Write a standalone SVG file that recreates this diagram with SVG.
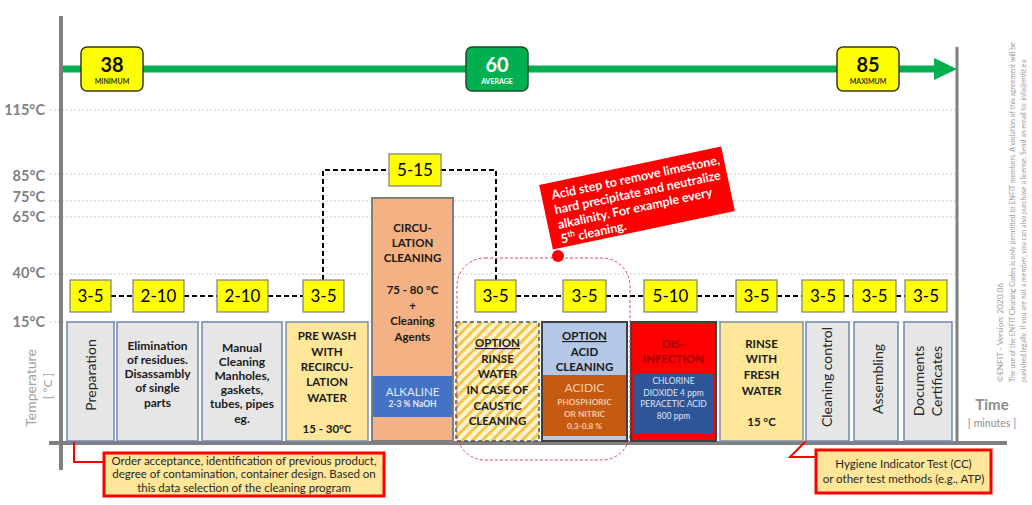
<svg xmlns="http://www.w3.org/2000/svg" width="1032" height="505" viewBox="0 0 1032 505">
<style>
.ax{stroke:#808080;fill:none}
.grid{stroke:#C9C9C9;stroke-width:1;stroke-dasharray:2 2}
.tl{font-family:Lato,"Liberation Sans",sans-serif;font-weight:bold;font-size:14.5px;fill:#808080;text-anchor:end}
.badge{fill:#FFFF00;stroke:#7F7F7F;stroke-width:1.2}
.bt{font-family:Lato,"Liberation Sans",sans-serif;font-size:17px;fill:#000;text-anchor:middle}
.dash{stroke:#000;stroke-width:2;stroke-dasharray:5 3;fill:none}
.gbox{fill:#E7E6E6;stroke:#6F87B5;stroke-width:1.5}
.ybox{fill:#FFE699;stroke:#7F8FA9;stroke-width:1.5}
.t{font-family:Lato,"Liberation Sans",sans-serif;font-weight:bold;font-size:12px;fill:#1a1a1a;text-anchor:middle}
.tc{font-family:Lato,"Liberation Sans",sans-serif;font-weight:bold;font-size:11.5px;fill:#1a1a1a;text-anchor:middle}
.rot{font-family:Lato,"Liberation Sans",sans-serif;font-size:14px;fill:#262626;text-anchor:middle}
.note{fill:#FFE699;stroke:#FF0000;stroke-width:3}
.nt{font-family:Lato,"Liberation Sans",sans-serif;font-size:11.5px;fill:#262626;text-anchor:middle}
.red{stroke:#FF0000;stroke-width:2;fill:none}
.lic{font-family:Lato,"Liberation Sans",sans-serif;font-size:8.3px;fill:#9A9A9A}
.lic2{font-family:Lato,"Liberation Sans",sans-serif;font-size:7px;fill:#9A9A9A}
</style>
<defs>
<pattern id="hatch" width="7" height="7" patternUnits="userSpaceOnUse" patternTransform="rotate(45)">
<rect width="7" height="7" fill="#FFF4D2"/>
<rect width="2.8" height="7" fill="#F2C242"/>
</pattern>
</defs>
<rect width="1032" height="505" fill="#FFFFFF"/>

<g id="grid">
<line class="grid" x1="50" y1="110" x2="957" y2="110"/>
<line class="grid" x1="50" y1="174" x2="957" y2="174"/>
<line class="grid" x1="50" y1="201" x2="957" y2="201"/>
<line class="grid" x1="50" y1="217" x2="957" y2="217"/>
<line class="grid" x1="50" y1="274" x2="957" y2="274"/>
<line class="grid" x1="50" y1="322" x2="957" y2="322"/>
<text class="tl" x="45" y="115">115°C</text>
<text class="tl" x="45" y="181">85°C</text>
<text class="tl" x="45" y="202">75°C</text>
<text class="tl" x="45" y="222">65°C</text>
<text class="tl" x="45" y="278">40°C</text>
<text class="tl" x="45" y="327">15°C</text>
</g>

<g id="axes">
<line class="ax" x1="61" y1="16" x2="61" y2="470" stroke-width="4"/>
<line class="ax" x1="49" y1="443" x2="1007" y2="443" stroke-width="4"/>
<line class="ax" x1="957" y1="47" x2="957" y2="443" stroke-width="3"/>
<text x="30" y="388" transform="rotate(-90 30 388)" font-family="Lato,'Liberation Sans',sans-serif" font-size="14" fill="#A0A0A0" text-anchor="middle" dominant-baseline="central">Temperature</text>
<text x="47" y="386" transform="rotate(-90 47 386)" font-family="Lato,'Liberation Sans',sans-serif" font-size="12" fill="#A0A0A0" text-anchor="middle" dominant-baseline="central">[ °C ]</text>
<text x="992" y="410" font-family="Lato,'Liberation Sans',sans-serif" font-size="15" font-weight="bold" fill="#8C8C8C" text-anchor="middle">Time</text>
<text x="992" y="427" font-family="Lato,'Liberation Sans',sans-serif" font-size="10.5" fill="#8C8C8C" text-anchor="middle">[ minutes ]</text>
</g>

<g id="temperature-arrow">
<line x1="63" y1="69" x2="937" y2="69" stroke="#00B050" stroke-width="7"/>
<polygon points="934,58 957,69 934,80" fill="#00B050"/>
</g>
<g id="badge-min">
<rect x="81" y="47" width="62" height="44" rx="6" fill="#FFFF00" stroke="#3A3A1A" stroke-width="1.5"/>
<text x="112" y="72" font-family="Lato,'Liberation Sans',sans-serif" font-size="20" font-weight="bold" fill="#111" text-anchor="middle">38</text>
<text x="112" y="84" font-family="Lato,'Liberation Sans',sans-serif" font-size="7" font-weight="bold" fill="#333" text-anchor="middle">MINIMUM</text>
</g>
<g id="badge-avg">
<rect x="466" y="47" width="62" height="44" rx="6" fill="#00B050" stroke="#1E4D2B" stroke-width="1.5"/>
<text x="497" y="72" font-family="Lato,'Liberation Sans',sans-serif" font-size="20" font-weight="bold" fill="#FFFFFF" text-anchor="middle">60</text>
<text x="497" y="84" font-family="Lato,'Liberation Sans',sans-serif" font-size="7" font-weight="bold" fill="#FFFFFF" text-anchor="middle">AVERAGE</text>
</g>
<g id="badge-max">
<rect x="837" y="47" width="62" height="44" rx="6" fill="#FFFF00" stroke="#3A3A1A" stroke-width="1.5"/>
<text x="868" y="72" font-family="Lato,'Liberation Sans',sans-serif" font-size="20" font-weight="bold" fill="#111" text-anchor="middle">85</text>
<text x="868" y="84" font-family="Lato,'Liberation Sans',sans-serif" font-size="7" font-weight="bold" fill="#333" text-anchor="middle">MAXIMUM</text>
</g>

<g id="connectors">
<line class="dash" x1="111" y1="296" x2="133" y2="296"/>
<line class="dash" x1="184" y1="296" x2="217" y2="296"/>
<line class="dash" x1="268" y1="296" x2="303" y2="296"/>
<path class="dash" d="M323,280 V170 H389"/>
<path class="dash" d="M441,170 H496 V280"/>
<line class="dash" x1="516" y1="296" x2="563" y2="296"/>
<line class="dash" x1="606" y1="296" x2="644" y2="296"/>
<line class="dash" x1="697" y1="296" x2="736" y2="296"/>
<line class="dash" x1="777" y1="296" x2="802" y2="296"/>
<line class="dash" x1="844" y1="296" x2="853" y2="296"/>
<line class="dash" x1="896" y1="296" x2="905" y2="296"/>
<polyline class="red" points="74,435 74,462 104,462"/>
<polyline class="red" points="815,432 790,457 817,457"/>
<circle cx="74" cy="435" r="5" fill="#FF0000"/>
<circle cx="815" cy="432" r="5" fill="#FF0000"/>
</g>

<g id="time-badges">
<rect class="badge" x="70" y="280" width="41" height="32"/><text class="bt" x="90.5" y="302">3-5</text>
<rect class="badge" x="133" y="280" width="51" height="32"/><text class="bt" x="158.5" y="302">2-10</text>
<rect class="badge" x="217" y="280" width="51" height="32"/><text class="bt" x="242.5" y="302">2-10</text>
<rect class="badge" x="303" y="280" width="41" height="32"/><text class="bt" x="323.5" y="302">3-5</text>
<rect class="badge" x="389" y="154" width="52" height="32"/><text class="bt" x="415" y="176">5-15</text>
<rect class="badge" x="475" y="280" width="41" height="32"/><text class="bt" x="495.5" y="302">3-5</text>
<rect class="badge" x="563" y="280" width="43" height="32"/><text class="bt" x="584.5" y="302">3-5</text>
<rect class="badge" x="644" y="280" width="53" height="32"/><text class="bt" x="670.5" y="302">5-10</text>
<rect class="badge" x="736" y="280" width="41" height="32"/><text class="bt" x="756.5" y="302">3-5</text>
<rect class="badge" x="802" y="280" width="42" height="32"/><text class="bt" x="823" y="302">3-5</text>
<rect class="badge" x="853" y="280" width="43" height="32"/><text class="bt" x="874.5" y="302">3-5</text>
<rect class="badge" x="905" y="280" width="42" height="32"/><text class="bt" x="926" y="302">3-5</text>
</g>

<g id="step-preparation">
<rect class="gbox" x="67" y="322" width="47" height="119"/>
<text class="rot" x="90" y="375" transform="rotate(-90 90 375)" dominant-baseline="central">Preparation</text>
</g>
<g id="step-elimination">
<rect class="gbox" x="117" y="322" width="81" height="119"/>
<text class="t" x="157.5" y="350">Elimination</text>
<text class="t" x="157.5" y="364">of residues.</text>
<text class="t" x="157.5" y="378">Disassambly</text>
<text class="t" x="157.5" y="392">of single</text>
<text class="t" x="157.5" y="407">parts</text>
</g>
<g id="step-manual">
<rect class="gbox" x="202" y="322" width="80" height="119"/>
<text class="t" x="242" y="352">Manual</text>
<text class="t" x="242" y="366">Cleaning</text>
<text class="t" x="242" y="380">Manholes,</text>
<text class="t" x="242" y="394">gaskets,</text>
<text class="t" x="242" y="408">tubes, pipes</text>
<text class="t" x="242" y="423">eg.</text>
</g>
<g id="step-prewash">
<rect class="ybox" x="286" y="322" width="82" height="119"/>
<text class="tc" x="327" y="340">PRE WASH</text>
<text class="tc" x="327" y="356">WITH</text>
<text class="tc" x="327" y="371">RECIRCU-</text>
<text class="tc" x="327" y="386">LATION</text>
<text class="tc" x="327" y="402">WATER</text>
<text class="tc" x="327" y="433">15 - 30°C</text>
</g>
<g id="step-circulation">
<rect x="372" y="198" width="81" height="243" fill="#F4B183" stroke="#7F7F7F" stroke-width="2"/>
<rect x="373" y="376" width="79" height="41" fill="#4472C4"/>
<text class="tc" x="412.5" y="232">CIRCU-</text>
<text class="tc" x="412.5" y="247">LATION</text>
<text class="tc" x="412.5" y="262">CLEANING</text>
<text class="tc" x="412.5" y="294">75 - 80 °C</text>
<text class="tc" x="412.5" y="310">+</text>
<text class="tc" x="412.5" y="325">Cleaning</text>
<text class="tc" x="412.5" y="341">Agents</text>
<text x="412.5" y="396" font-family="Lato,'Liberation Sans',sans-serif" font-size="11.5" fill="#E3EBFA" text-anchor="middle">ALKALINE</text>
<text x="412.5" y="407" font-family="Lato,'Liberation Sans',sans-serif" font-size="8.5" font-weight="bold" fill="#E3EBFA" text-anchor="middle">2-3 % NaOH</text>
</g>
<g id="step-option-rinse">
<rect x="456" y="322" width="83" height="119" fill="url(#hatch)" stroke="#44546A" stroke-width="1.5" stroke-dasharray="4 3"/>
<text class="tc" x="497.5" y="347" text-decoration="underline">OPTION</text>
<text class="tc" x="497.5" y="363">RINSE</text>
<text class="tc" x="497.5" y="378">WATER</text>
<text class="tc" x="497.5" y="394">IN CASE OF</text>
<text class="tc" x="497.5" y="410">CAUSTIC</text>
<text class="tc" x="497.5" y="425">CLEANING</text>
</g>
<g id="step-option-acid">
<rect x="542" y="322" width="85" height="119" fill="#B4C7E7" stroke="#404040" stroke-width="2"/>
<rect x="543" y="375" width="83" height="61" fill="#C55A11"/>
<text class="tc" x="584.5" y="340" text-decoration="underline">OPTION</text>
<text class="tc" x="584.5" y="356">ACID</text>
<text class="tc" x="584.5" y="371">CLEANING</text>
<text x="584.5" y="392" font-family="Lato,'Liberation Sans',sans-serif" font-size="12" fill="#F8CBAD" text-anchor="middle">ACIDIC</text>
<text x="584.5" y="405" font-family="Lato,'Liberation Sans',sans-serif" font-size="8.3" font-weight="bold" fill="#F8CBAD" text-anchor="middle">PHOSPHORIC</text>
<text x="584.5" y="417" font-family="Lato,'Liberation Sans',sans-serif" font-size="8.3" font-weight="bold" fill="#F8CBAD" text-anchor="middle">OR NITRIC</text>
<text x="584.5" y="429" font-family="Lato,'Liberation Sans',sans-serif" font-size="8.3" font-weight="bold" fill="#F8CBAD" text-anchor="middle">0,3-0,8 %</text>
</g>
<g id="step-disinfection">
<rect x="631" y="322" width="85" height="119" fill="#FF0000" stroke="#404040" stroke-width="2"/>
<rect x="634" y="374" width="79" height="60" fill="#2F5597"/>
<text x="673.5" y="348" font-family="Lato,'Liberation Sans',sans-serif" font-size="11.5" font-weight="bold" fill="#9E0000" text-anchor="middle">DIS-</text>
<text x="673.5" y="363" font-family="Lato,'Liberation Sans',sans-serif" font-size="11.5" font-weight="bold" fill="#9E0000" text-anchor="middle">INFECTION</text>
<text x="673.5" y="384" font-family="Lato,'Liberation Sans',sans-serif" font-size="8.5" fill="#DCE4F4" text-anchor="middle">CHLORINE</text>
<text x="673.5" y="396" font-family="Lato,'Liberation Sans',sans-serif" font-size="8.5" fill="#DCE4F4" text-anchor="middle">DIOXIDE 4 ppm</text>
<text x="673.5" y="407" font-family="Lato,'Liberation Sans',sans-serif" font-size="8.5" fill="#DCE4F4" text-anchor="middle">PERACETIC ACID</text>
<text x="673.5" y="419" font-family="Lato,'Liberation Sans',sans-serif" font-size="8.5" fill="#DCE4F4" text-anchor="middle">800 ppm</text>
</g>
<g id="step-rinse">
<rect class="ybox" x="720" y="322" width="83" height="119"/>
<text class="tc" x="761.5" y="348">RINSE</text>
<text class="tc" x="761.5" y="363">WITH</text>
<text class="tc" x="761.5" y="379">FRESH</text>
<text class="tc" x="761.5" y="395">WATER</text>
<text class="tc" x="761.5" y="426">15 °C</text>
</g>
<g id="step-cleaning-control">
<rect class="gbox" x="806" y="322" width="43" height="119"/>
<text class="rot" x="826" y="377" transform="rotate(-90 826 377)" dominant-baseline="central">Cleaning control</text>
</g>
<g id="step-assembling">
<rect class="gbox" x="854" y="322" width="44" height="119"/>
<text class="rot" x="877" y="379" transform="rotate(-90 877 379)" dominant-baseline="central">Assembling</text>
</g>
<g id="step-documents">
<rect class="gbox" x="904" y="322" width="48" height="119"/>
<text class="rot" x="918" y="381" transform="rotate(-90 918 381)" dominant-baseline="central">Documents</text>
<text class="rot" x="936" y="381" transform="rotate(-90 936 381)" dominant-baseline="central">Certificates</text>
</g>

<g id="option-group">
<rect x="457" y="258" width="173" height="202" rx="28" fill="none" stroke="#E0485A" stroke-width="1" stroke-dasharray="3 2"/>
<circle cx="558" cy="256" r="6" fill="#FF0000"/>
</g>
<g id="acid-callout">
<g transform="translate(637,198) rotate(-12)">
<rect x="-93" y="-33" width="186" height="66" fill="#FF0000"/>
<g font-family="Lato,'Liberation Sans',sans-serif" font-size="12.5" font-weight="bold" fill="#FFFFFF">
<text x="-83" y="-16">Acid step to remove limestone,</text>
<text x="-83" y="-1">hard precipitate and neutralize</text>
<text x="-83" y="14">alkalinity. For example every</text>
<text x="-83" y="29">5<tspan font-size="8" dy="-5">th</tspan><tspan dy="5"> cleaning.</tspan></text>
</g>
</g>
</g>

<g id="note-preparation">
<rect class="note" x="104" y="453" width="280" height="43"/>
<text class="nt" x="244" y="465">Order acceptance, identification of previous product,</text>
<text class="nt" x="244" y="478">degree of contamination, container design. Based on</text>
<text class="nt" x="244" y="492">this data selection of the cleaning program</text>
</g>
<g id="note-hygiene">
<rect class="note" x="816" y="450" width="175" height="43"/>
<text class="nt" x="903.5" y="468">Hygiene Indicator Test (CC)</text>
<text class="nt" x="903.5" y="483">or other test methods (e.g., ATP)</text>
</g>

<g id="license">
<text class="lic" x="1003" y="382" transform="rotate(-90 1003 382)">©ENFIT - Version: 2020.06</text>
<text class="lic2" x="1015" y="382" transform="rotate(-90 1015 382)">The use of the ENFIT Cleaning Codes is only permitted to ENFIT members. A violation of this agreement will be</text>
<text class="lic2" x="1026" y="382" transform="rotate(-90 1026 382)">punished legally. If you are not a member, you can also purchase a license. Send an email to: info@enfit.eu</text>
</g>
</svg>
